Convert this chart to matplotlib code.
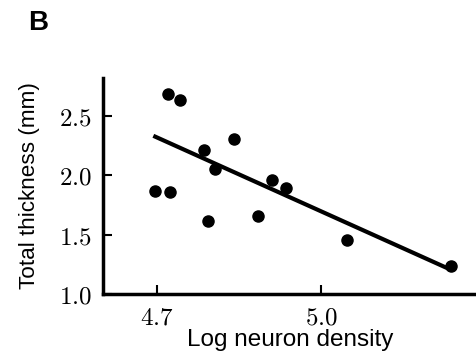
import matplotlib
matplotlib.use("Agg")
import matplotlib.pyplot as plt
from matplotlib.ticker import FixedLocator, FixedFormatter

plt.rcParams['mathtext.fontset'] = 'cm'

# Data
log_density = [4.696, 4.720, 4.741, 4.724, 4.785, 4.805, 4.793, 4.841,
               4.885, 4.910, 4.936, 5.048, 5.237]
thickness = [1.867, 2.684, 2.633, 1.859, 2.212, 2.055, 1.617, 2.302,
             1.657, 1.960, 1.890, 1.455, 1.236]
fit_x = [4.693, 5.239]
fit_y = [2.333, 1.200]

x_ticks = [4.7, 5.0]
x_ticklabels = ['$4.7$', '$5.0$']
y_ticks = [1.0, 1.5, 2.0, 2.5]
y_ticklabels = ['$1.0$', '$1.5$', '$2.0$', '$2.5$']

fig = plt.figure(figsize=(4.77, 3.58), dpi=100)
ax = fig.add_axes([0.216, 0.179, 0.784, 0.603])

ax.plot(log_density, thickness, 'o', color='black', markersize=8, zorder=3)
ax.plot(fit_x, fit_y, '-', color='black', linewidth=3.0, solid_capstyle='butt', zorder=2)

ax.set_xlim(4.601, 5.285)
ax.set_ylim(1.0, 2.82)

for s in ['top', 'right']:
    ax.spines[s].set_visible(False)
for s in ['left', 'bottom']:
    ax.spines[s].set_linewidth(2.5)

ax.xaxis.set_major_locator(FixedLocator(x_ticks))
ax.xaxis.set_major_formatter(FixedFormatter(x_ticklabels))
ax.yaxis.set_major_locator(FixedLocator(y_ticks))
ax.yaxis.set_major_formatter(FixedFormatter(y_ticklabels))
ax.tick_params(direction='in', length=6.5, width=1.5, labelsize=18, pad=8)
ax.tick_params(axis='y', pad=8)

ax.set_xlabel('Log neuron density', fontsize=17.5, family='Liberation Sans', labelpad=0)
ax.set_ylabel('Total thickness (mm)', fontsize=16.2, family='Liberation Sans', labelpad=14)

fig.text(0.06, 0.915, 'B', fontsize=20, fontweight='bold', family='Liberation Sans')

fig.savefig('out.png', dpi=100)
